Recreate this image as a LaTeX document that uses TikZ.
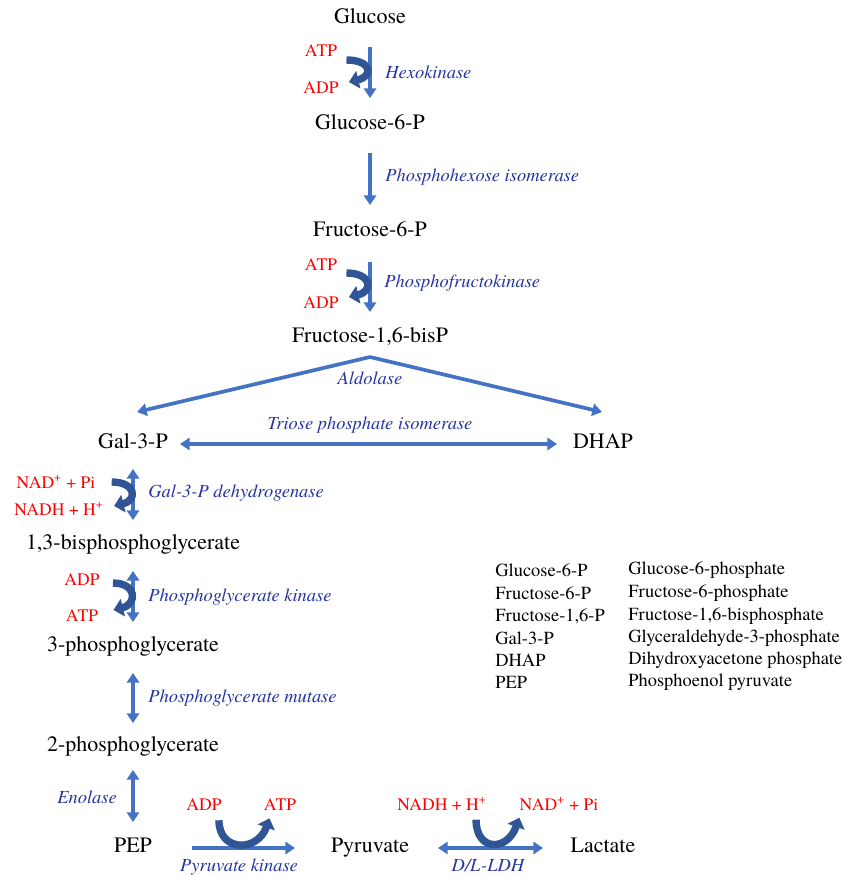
\documentclass[tikz,border=0pt]{standalone}
\usepackage{fontspec}
\setmainfont{texgyretermes}[
  Extension = .otf,
  UprightFont = *-regular,
  ItalicFont = *-italic,
  BoldFont = *-bold,
  BoldItalicFont = *-bolditalic]
\usepackage{xcolor}
\definecolor{ArrBlue}{RGB}{68,114,196}
\definecolor{CurlBlue}{RGB}{47,85,151}
\definecolor{EnzBlue}{RGB}{36,52,160}
\definecolor{CofRed}{RGB}{255,0,0}
\usetikzlibrary{arrows.meta}

\begin{document}
\begin{tikzpicture}[
    x = 0.02cm, y = -0.02cm
    , metab/.style = {
      , inner sep = 0pt
      , font = \fontsize{12.5}{15}\selectfont
      , text height = 1.5ex
      , text depth = .25ex
    }
    , enz/.style = {
      , inner sep = 0pt
      , text = EnzBlue
      , font = \fontsize{10.5}{12.5}\selectfont\itshape
    }
    , cof/.style = {
      , inner sep = 0pt
      , text = CofRed
      , font = \fontsize{10}{12}\selectfont
    }
    , abbr/.style = {
      , inner sep = 0pt
      , anchor = west
      , font = \fontsize{10.5}{12.5}\selectfont
    }
    , flow/.style = {
      , draw = ArrBlue
      , line width = 2.1pt
      , -{Triangle[length=5.5pt, width=7pt]}
    }
    , twoway/.style = {
      flow,
      {Triangle[length=5.5pt, width=7pt]}-{Triangle[length=5.5pt, width=7pt]}
    }
    , curl/.style = {
      , draw = CurlBlue
      , line width = 4.2pt
      , -{Triangle[length=5.5pt, width=10pt]}
    }
    ]
    \useasboundingbox (0,0) rectangle (858,877);

    % metabolites
    \node[metab] (glc)   at (370,19)  {Glucose};
    \node[metab] (g6p)   at (370,125) {Glucose-6-P};
    \node[metab] (f6p)   at (370,232) {Fructose-6-P};
    \node[metab] (f16bp) at (370,338) {Fructose-1,6-bisP};
    \node[metab] (gap)   at (133,444) {Gal-3-P};
    \node[metab] (dhap)  at (603,444) {DHAP};
    \node[metab] (bpg)   at (133,545) {1,3-bisphosphoglycerate};
    \node[metab] (pg3)   at (133,647) {3-phosphoglycerate};
    \node[metab] (pg2)   at (133,747) {2-phosphoglycerate};
    \node[metab] (pep)   at (133,848) {PEP};
    \node[metab] (pyr)   at (370,848) {Pyruvate};
    \node[metab] (lac)   at (603,848) {Lactate};

    % enzymes
    \node[enz, anchor=west] (hk)    at (385,72)  {Hexokinase};
    \node[enz, anchor=west] (pgi)   at (385,177) {Phosphohexose isomerase};
    \node[enz, anchor=west] (pfk)   at (384,283) {Phosphofructokinase};
    \node[enz]              (ald)   at (370,378) {Aldolase};
    \node[enz]              (tpi)   at (370,425) {Triose phosphate isomerase};
    \node[enz, anchor=west] (gapdh) at (148,493) {Gal-3-P dehydrogenase};
    \node[enz, anchor=west] (pgk)   at (148,597) {Phosphoglycerate kinase};
    \node[enz, anchor=west] (pgm)   at (148,698) {Phosphoglycerate mutase};
    \node[enz]              (eno)   at (87,797)  {Enolase};
    \node[enz]              (pk)    at (239,867) {Pyruvate kinase};
    \node[enz]              (ldh)   at (488,866) {D/L-LDH};

    % cofactors
    \node[cof] (atp1)  at (321,51)  {ATP};
    \node[cof] (adp1)  at (321,88)  {ADP};
    \node[cof] (atp2)  at (321,265) {ATP};
    \node[cof] (adp2)  at (321,303) {ADP};
    \node[cof] (nad1)  at (56,482)  {NAD\textsuperscript{+} + Pi};
    \node[cof] (nadh1) at (59,509)  {NADH + H\textsuperscript{+}};
    \node[cof] (adp3)  at (82,580)  {ADP};
    \node[cof] (atp3)  at (82,616)  {ATP};
    \node[cof] (adp4)  at (204,805) {ADP};
    \node[cof] (atp4)  at (280,805) {ATP};
    \node[cof] (nadh2) at (442,804) {NADH + H\textsuperscript{+}};
    \node[cof] (nad2)  at (559,804) {NAD\textsuperscript{+} + Pi};

    % main chain
    \draw[flow, shorten <=0.56cm, shorten >=0.54cm] (glc.center) -- (g6p.center);
    \draw[flow, shorten <=0.56cm, shorten >=0.54cm] (g6p.center) -- (f6p.center);
    \draw[flow, shorten <=0.6cm, shorten >=0.52cm] (f6p.center) -- (f16bp.center);

    \coordinate (split) at (370,357);
    \coordinate (toleft) at (137,412);
    \coordinate (toright) at (602,412);
    \draw[flow] (split) -- (toleft);
    \draw[flow] (split) -- (toright);

    \draw[twoway, shorten <=0.94cm, shorten >=0.92cm] (gap.center) -- (dhap.center);
    \draw[twoway, shorten <=0.5cm, shorten >=0.5cm] (gap.center) -- (bpg.center);
    \draw[twoway, shorten <=0.52cm, shorten >=0.5cm] (bpg.center) -- (pg3.center);
    \draw[twoway, shorten <=0.52cm, shorten >=0.48cm] (pg3.center) -- (pg2.center);
    \draw[twoway, shorten <=0.46cm, shorten >=0.52cm] (pg2.center) -- (pep.center);
    \draw[flow, shorten <=1.18cm, shorten >=1.5cm] (pep.center) -- (pyr.center);
    \draw[twoway, shorten <=1.36cm, shorten >=1.2cm] (pyr.center) -- (lac.center);

    % cofactor curls
    \draw[curl] ([shift={(9,9)}]atp1.east) .. controls +(25,0) and +(25,-6) .. ([shift={(10,-6)}]adp1.east);
    \draw[curl] ([shift={(9,8)}]atp2.east) .. controls +(25,0) and +(25,-6) .. ([shift={(10,-6)}]adp2.east);
    \draw[curl] ([shift={(16,0)}]nad1.east) .. controls +(24,0) and +(24,-6) .. ([shift={(10,-3)}]nadh1.east);
    \draw[curl] ([shift={(13,3)}]adp3.east) .. controls +(24,0) and +(24,-6) .. ([shift={(15,-6)}]atp3.east);
    \draw[curl] ([shift={(-3,9)}]adp4.south east) .. controls +(0,32) and +(-12,34) .. ([shift={(6,7)}]atp4.south west);
    \draw[curl] ([shift={(-11,9)}]nadh2.south east) .. controls +(0,32) and +(-12,34) .. ([shift={(0,7)}]nad2.south west);

    % abbreviations
    \node[abbr] (ab1) at (495,570) {Glucose-6-P};
    \node[abbr] (ab2) at (495,593) {Fructose-6-P};
    \node[abbr] (ab3) at (495,616) {Fructose-1,6-P};
    \node[abbr] (ab4) at (495,638) {Gal-3-P};
    \node[abbr] (ab5) at (495,660) {DHAP};
    \node[abbr] (ab6) at (495,682) {PEP};
    \node[abbr] (full1) at (628,570) {Glucose-6-phosphate};
    \node[abbr] (full2) at (628,593) {Fructose-6-phosphate};
    \node[abbr] (full3) at (628,616) {Fructose-1,6-bisphosphate};
    \node[abbr] (full4) at (628,638) {Glyceraldehyde-3-phosphate};
    \node[abbr] (full5) at (628,660) {Dihydroxyacetone phosphate};
    \node[abbr] (full6) at (628,682) {Phosphoenol pyruvate};
  \end{tikzpicture}
\end{document}
